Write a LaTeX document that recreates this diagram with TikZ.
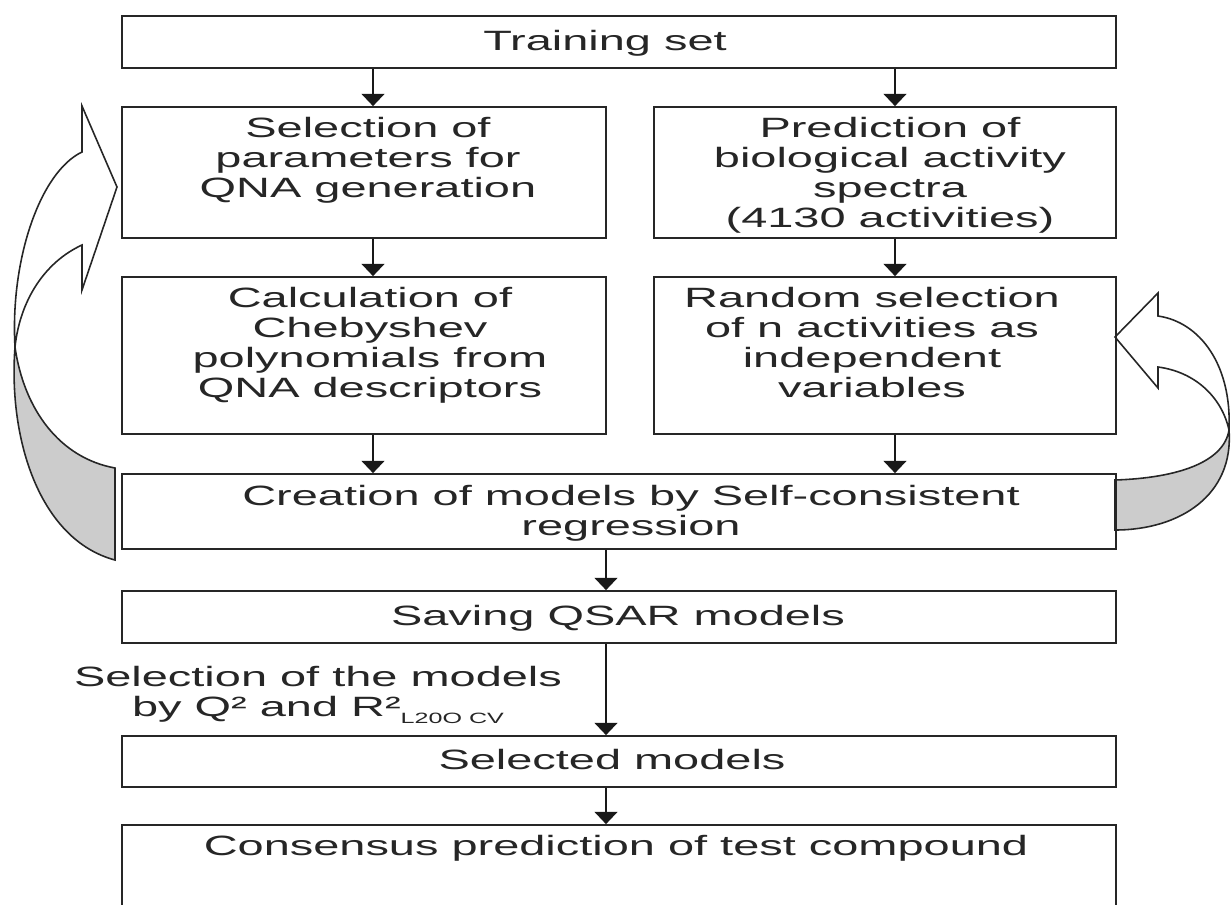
\documentclass[tikz,border=0pt]{standalone}
\usepackage{fontspec}
\setmainfont{Liberation Sans}[FakeStretch=1.68]
\usetikzlibrary{arrows.meta}
\begin{document}
\begin{tikzpicture}[x=0.02cm,y=-0.02cm,
  box/.style={draw=black!85, line width=1pt, rectangle, inner sep=0pt},
  txt/.style={inner sep=0pt, align=center, text=black!85, font=\fontsize{15.9}{17.07}\selectfont},
  arr/.style={draw=black!90, line width=1.1pt, -{Triangle[width=13pt,length=7pt]}},
  band/.style={draw=black!85, line width=0.9pt, line join=miter},
  topt/.style={txt, anchor=north}]
\useasboundingbox (0,0) rectangle (1232,904);
\clip (0,0) rectangle (1232,904);
\fill[white] (0,0) rectangle (1232,904);

% curved arrows (3D bands)
\path[band, fill=gray!40] (15,347) .. controls (8,440) and (40,540) .. (115,560) -- (115,468)
  .. controls (60,458) and (24,410) .. (15,347) -- cycle;
\path[band, fill=white] (82,106) -- (117,187) -- (82,290) -- (82,245)
  .. controls (45,262) and (20,300) .. (15,347)
  .. controls (10,260) and (40,172) .. (82,152) -- cycle;

\path[band, fill=gray!40] (1229,430) .. controls (1234,495) and (1180,530) .. (1115,530) -- (1115,480)
  .. controls (1178,478) and (1224,462) .. (1229,430) -- cycle;
\path[band, fill=white] (1158,293) -- (1115,337) -- (1158,388) -- (1158,367)
  .. controls (1196,372) and (1222,398) .. (1229,430)
  .. controls (1232,365) and (1200,322) .. (1158,316) -- cycle;

% boxes
\node[box, minimum width=19.88cm, minimum height=1.04cm] (train) at (619,42) {};
\node[box, minimum width=9.68cm, minimum height=2.62cm] (L1) at (364,172.5) {};
\node[box, minimum width=9.24cm, minimum height=2.62cm] (R1) at (885,172.5) {};
\node[box, minimum width=9.68cm, minimum height=3.14cm] (L2) at (364,355.5) {};
\node[box, minimum width=9.24cm, minimum height=3.14cm] (R2) at (885,355.5) {};
\node[box, minimum width=19.88cm, minimum height=1.5cm] (cre) at (619,511.5) {};
\node[box, minimum width=19.88cm, minimum height=1.04cm] (sav) at (619,617) {};
\node[box, minimum width=19.88cm, minimum height=1.02cm] (sel) at (619,761.5) {};
\node[box, minimum width=19.88cm, minimum height=2.3cm] (con) at (619,882.5) {};

% texts
\node[txt] (traint) at (605,43) {Training set};
\node[topt] (L1t) at ([xshift=0.08cm,yshift=-0.22cm]L1.north) {Selection of\\parameters for\\QNA generation};
\node[topt] (R1t) at ([xshift=0.1cm,yshift=-0.22cm]R1.north) {Prediction of\\biological activity\\spectra\\(4130 activities)};
\node[topt] (L2t) at ([xshift=0.12cm,yshift=-0.22cm]L2.north) {Calculation of\\Chebyshev\\polynomials from\\QNA descriptors};
\node[topt] (R2t) at ([xshift=-0.26cm,yshift=-0.22cm]R2.north) {Random selection\\of n activities as\\independent\\variables};
\node[topt] (cret) at ([xshift=0.24cm,yshift=-0.24cm]cre.north) {Creation of models by Self-consistent\\regression};
\node[txt] (savt) at (618,618) {Saving QSAR models};
\node[txt] (selt) at (612,760) {Selected models};
\node[topt] (cont) at ([xshift=-0.06cm,yshift=-0.22cm]con.north) {Consensus prediction of test compound};
\node[txt] (lab) at (318,695) {Selection of the models\\by Q² and R²\raisebox{-0.5ex}{\fontsize{8.5}{9}\selectfont L20O CV}};

% connectors
\coordinate (ax) at (373,0);
\coordinate (bx) at (895,0);
\coordinate (cx) at (606,0);
\draw[arr] (train.south -| ax) -- (L1.north -| ax);
\draw[arr] (train.south -| bx) -- (R1.north -| bx);
\draw[arr] (L1.south -| ax) -- (L2.north -| ax);
\draw[arr] (R1.south -| bx) -- (R2.north -| bx);
\draw[arr] (L2.south -| ax) -- (cre.north -| ax);
\draw[arr] (R2.south -| bx) -- (cre.north -| bx);
\draw[arr] (cre.south -| cx) -- (sav.north -| cx);
\draw[arr] (sav.south -| cx) -- (sel.north -| cx);
\draw[arr] (sel.south -| cx) -- (con.north -| cx);
\end{tikzpicture}
\end{document}
